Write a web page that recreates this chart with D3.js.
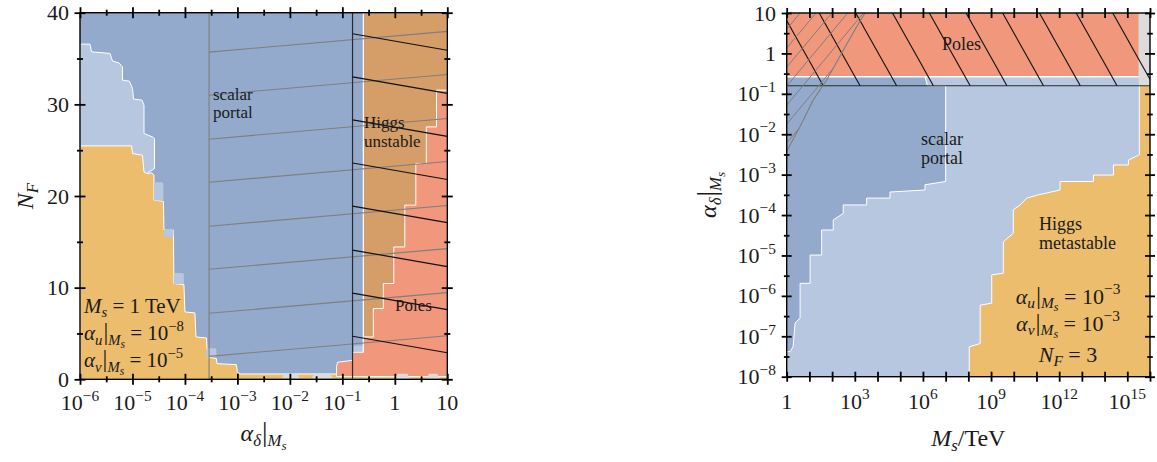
<!DOCTYPE html>
<html>
<head>
<meta charset="utf-8">
<script src="https://cdn.jsdelivr.net/npm/d3@7/dist/d3.min.js"></script>
<style>
  html, body { margin: 0; padding: 0; background: #fff; }
  svg { display: block; }
  text { font-family: "Liberation Serif", "Times New Roman", serif; fill: #1a1a1a; }
</style>
</head>
<body>
<svg id="chart" width="1157" height="462"></svg>
<script>
// ---------------- Left panel: N_F against alpha_delta at M_s = 1 TeV ----------------
// Region outlines, points as [log10(alpha_delta), N_F]
const leftLightBlue = [[-6,36.57],[-5.81,36.57],[-5.78,35.73],[-5.43,35.56],[-5.38,34.72],[-5.26,34.53],
  [-5.19,34.09],[-5.19,32.64],[-5.06,32.53],[-5.0,31.74],[-4.98,30.57],[-4.82,30.46],[-4.78,29.91],
  [-4.78,26.82],[-4.62,26.45],[-4.58,26.28],[-4.58,23.0],[-4.70,22.57],[-4.72,22.0],[-6,22.0]];
const leftMetastable = [[-6,25.47],[-5.015,25.47],[-5.0,24.64],[-4.81,24.45],[-4.78,22.63],[-4.73,22.46],
  [-4.63,22.52],[-4.59,22.27],[-4.59,19.54],[-4.41,19.43],[-4.40,16.34],[-4.22,16.27],[-4.21,10.45],
  [-4.02,10.34],[-4.0,7.35],[-3.81,7.24],[-3.79,4.62],[-3.59,4.51],[-3.58,3.35],[-3.56,2.43],[-3.40,2.26],
  [-3.39,1.71],[-3.02,1.60],[-3.0,0.80],[-2.95,0.58],[1,0.58],[1,0],[-6,0]];
// small cells along the metastability edge: [x0, x1, N0, N1]
const leftPatches = [[-4.59,-4.41,19.5,21.5],[-4.40,-4.22,15.5,16.4],[-4.21,-4.02,10.4,11.6],
  [-3.59,-3.40,2.4,3.4],[-0.78,-0.6,3.0,3.7]];
const leftUnstable = [[-0.6,40],[1,40],[1,0.3],[-0.6,0.3]];
const leftPoles = [[1,31.55],[0.794,31.55],[0.794,27.54],[0.60,27.54],[0.60,23.55],[0.40,23.55],
  [0.40,19.0],[0.19,19.0],[0.19,14.44],[-0.02,14.44],[-0.02,10.45],[-0.22,10.45],[-0.22,7.72],
  [-0.41,7.72],[-0.41,4.62],[-0.60,4.62],[-0.60,2.95],[-0.806,2.95],[-0.806,2.07],[-1.09,1.86],
  [-1.11,1.42],[-1.11,0.3],[1,0.3]];
const leftGreyBlobs = [[-2.16,-1.81],[-1.59,-1.18],[0.0,0.29],[0.6,0.86]];
const leftPortalEdge = -3.54;          // scalar-portal bound, log10 alpha
const leftPortalHatch = [35.7, 31.0, 26.2, 21.5, 16.7, 12.0, 7.2, 2.5];
const leftPortalRise = 2.26;
const leftPoleEdge = -0.806;           // perturbativity bound, log10 alpha
const leftPoleHatch = [37.7, 33.0, 28.3, 23.6, 18.9, 14.1, 9.4, 4.7];
const leftPoleDrop = 1.8;
const leftXTicks = [-6, -5, -4, -3, -2, -1, 0, 1];
const leftXMinor = [-5.5, -4.5, -3.5, -2.5, -1.5, -0.5, 0.5];
const leftYTicks = [0, 10, 20, 30, 40];
const leftYMinor = [5, 15, 25, 35];

// ---------------- Right panel: alpha_delta against M_s ----------------
// points as [log10(M_s/TeV), log10(alpha_delta)]
const rightPortalEdge = [[7.0,-0.8],[7.0,-3.17],[6.09,-3.25],[6.09,-3.38],[4.55,-3.43],[4.55,-3.58],
  [3.52,-3.58],[3.52,-3.75],[2.49,-3.75],[2.49,-3.96],[2.05,-4.12],[2.05,-4.37],[1.54,-4.37],
  [1.54,-4.99],[1.03,-4.99],[1.03,-5.69],[0.59,-5.69],[0.59,-6.55],[0.37,-6.67],[0.28,-7.26],
  [0.15,-7.38],[0,-7.38]];
const rightMetastableEdge = [[15.53,-0.8],[15.53,-2.51],[15.05,-2.64],[15.05,-2.76],[14.39,-2.76],
  [14.39,-3.01],[13.51,-3.01],[13.51,-3.17],[12.04,-3.17],[12.04,-3.38],[11.08,-3.5],[10.57,-3.58],
  [10.28,-3.75],[9.98,-3.87],[9.98,-4.45],[9.54,-4.66],[9.54,-5.44],[9.03,-5.48],[9.03,-6.18],
  [8.52,-6.23],[8.52,-7.18],[8.04,-7.26],[8.04,-8]];
const rightPolesBottom = -0.577;
const rightPoleLine = -0.8;
const rightPolesRight = 15.5;
const rightPortalStripEnd = [6.09, 6.2];
const rightPoleHatchEnd = [1.61, 3.23, 4.84, 6.46, 8.08, 9.70, 11.31, 12.93, 14.55, 16.16];
const rightPoleHatchRun = 1.8;
const rightCurve = [[0,-2.42],[0.59,-1.81],[1.17,-1.15],[1.76,-0.66],[2.49,0.08],[3.08,0.66],[3.45,1.0]];
const rightCurveHatch = [0.60, 0.13, -0.34, -0.81, -1.28, -1.75, -2.22];
const rightCurveSlope = 0.674;
const rightXTicks = [0, 3, 6, 9, 12, 15];
const rightXMinor = [1, 2, 4, 5, 7, 8, 10, 11, 13, 14, 16];
const rightYTicks = [-8, -7, -6, -5, -4, -3, -2, -1, 0, 1];
const rightYMinor = [-7.5, -6.5, -5.5, -4.5, -3.5, -2.5, -1.5, -0.5, 0.5];

const COL = { portal: '#93aacc', light: '#b6c7df', meta: '#ebbd6c', unstable: '#d59d68',
              poles: '#f0977c', grey: '#dcdcdc', hatch: '#7f7f7f' };

const svg = d3.select('#chart');
const P = 10;
const pow = e => Math.pow(P, e);

// ---------- rich text (italic, sub/superscripts) ----------
function rich(g, parts, size) {
  const t = g.append('text').style('font-size', size + 'px');
  let shift = 0;
  parts.forEach(p => {
    const lvl = p.s || 0;
    const sc = lvl === 0 ? (p.k || 1) : (Math.abs(lvl) === 1 ? 0.7 : 0.55);
    const target = lvl === 0 ? 0 : lvl === 1 ? 0.22 * size : lvl === 2 ? 0.36 * size : -0.42 * size;
    const ts = t.append('tspan').text(p.t)
      .attr('dy', target - shift)
      .style('font-size', (size * sc) + 'px')
      .style('font-style', p.i ? 'italic' : 'normal');
    if (p.dx) ts.attr('dx', p.dx);
    shift = target;
  });
  return t;
}
const alphaAt = sub => [{t:'α', i:1}, {t:sub, i:1, s:1}, {t:'|', k:1.15, dx:1}, {t:'M', i:1, s:1}, {t:'s', i:1, s:2}];
const powLabel = e => e === 0 ? [{t:'1'}] : e === 1 ? [{t:'10'}]
  : [{t:'10'}, {t:(e < 0 ? '−' : '') + Math.abs(e), s:-1}];

// ---------- ticks that cross the frame ----------
function crossTicks(g, axisFn, scale, values, len, transform) {
  [len, -len].forEach(sz => {
    const a = g.append('g').attr('transform', transform)
      .call(axisFn(scale).tickValues(values).tickSize(sz).tickFormat(''));
    a.select('.domain').remove();
    a.selectAll('line').attr('stroke', '#000').attr('stroke-width', 1.8);
  });
}

// =================== LEFT PANEL ===================
(function () {
  const box = { x0: 80, x1: 447.3, y0: 12.7, y1: 379.3 };
  const xs = d3.scaleLog().domain([1e-6, 10]).range([box.x0, box.x1]);
  const ys = d3.scaleLinear().domain([0, 40]).range([box.y1, box.y0]);
  const X = e => xs(pow(e)), Y = n => ys(n);
  const line = d3.line().x(d => X(d[0])).y(d => Y(d[1]));
  const g = svg.append('g');

  svg.append('clipPath').attr('id', 'clipL').append('rect')
    .attr('x', box.x0).attr('y', box.y0).attr('width', box.x1 - box.x0).attr('height', box.y1 - box.y0);
  const pg = g.append('g').attr('clip-path', 'url(#clipL)');

  pg.append('rect').attr('x', box.x0).attr('y', box.y0).attr('width', box.x1 - box.x0)
    .attr('height', box.y1 - box.y0).attr('fill', COL.portal);
  pg.append('path').attr('d', line(leftLightBlue) + 'Z').attr('fill', COL.light)
    .attr('stroke', '#fff').attr('stroke-width', 1);
  pg.append('path').attr('d', line(leftMetastable) + 'Z').attr('fill', COL.meta)
    .attr('stroke', '#fff').attr('stroke-width', 1);
  pg.selectAll('.patch').data(leftPatches).join('rect').attr('class', 'patch')
    .attr('x', d => X(d[0])).attr('width', d => X(d[1]) - X(d[0]))
    .attr('y', d => Y(d[3])).attr('height', d => Y(d[2]) - Y(d[3]))
    .attr('fill', COL.light).attr('rx', 1.5);
  pg.append('path').attr('d', line(leftUnstable) + 'Z').attr('fill', COL.unstable)
    .attr('stroke', '#fff').attr('stroke-width', 1.2);
  pg.append('path').attr('d', line(leftPoles) + 'Z').attr('fill', COL.poles)
    .attr('stroke', '#fff').attr('stroke-width', 1);
  pg.selectAll('.blob').data(leftGreyBlobs).join('path').attr('class', 'blob')
    .attr('d', d => line([[d[0], 0], [d[0] + 0.05, 0.6], [d[1] - 0.05, 0.6], [d[1], 0]]) + 'Z')
    .attr('fill', COL.grey);

  // scalar-portal bound with hatching
  pg.append('line').attr('x1', X(leftPortalEdge)).attr('x2', X(leftPortalEdge))
    .attr('y1', box.y0).attr('y2', box.y1).attr('stroke', COL.hatch).attr('stroke-width', 1.1);
  pg.selectAll('.ph').data(leftPortalHatch).join('line').attr('class', 'ph')
    .attr('x1', X(leftPortalEdge)).attr('y1', d => Y(d))
    .attr('x2', X(1)).attr('y2', d => Y(d + leftPortalRise))
    .attr('stroke', COL.hatch).attr('stroke-width', 1.1);

  // perturbativity bound with hatching
  pg.append('line').attr('x1', X(leftPoleEdge)).attr('x2', X(leftPoleEdge))
    .attr('y1', box.y0).attr('y2', box.y1).attr('stroke', '#2b2b2b').attr('stroke-width', 1.2);
  pg.selectAll('.bh').data(leftPoleHatch).join('line').attr('class', 'bh')
    .attr('x1', X(leftPoleEdge)).attr('y1', d => Y(d))
    .attr('x2', X(1)).attr('y2', d => Y(d - leftPoleDrop))
    .attr('stroke', '#111').attr('stroke-width', 1.2);

  // region labels
  const lab = (x, y, s) => g.append('text').attr('x', x).attr('y', y).style('font-size', '17px').text(s);
  lab(213, 99.5, 'scalar'); lab(213, 118, 'portal');
  lab(364, 128, 'Higgs'); lab(364, 147, 'unstable');
  lab(395, 311, 'Poles');

  // parameter box
  const a1 = rich(g, [{t:'M', i:1}, {t:'s', i:1, s:1}, {t:' = 1 TeV'}], 21);
  a1.attr('x', 84).attr('y', 312.5);
  const a2 = rich(g, alphaAt('u').concat([{t:' = '}, ...powLabel(-8)]), 21);
  a2.attr('x', 84).attr('y', 340);
  const a3 = rich(g, alphaAt('v').concat([{t:' = '}, ...powLabel(-5)]), 21);
  a3.attr('x', 84).attr('y', 367);

  // frame and ticks
  g.append('rect').attr('x', box.x0).attr('y', box.y0).attr('width', box.x1 - box.x0)
    .attr('height', box.y1 - box.y0).attr('fill', 'none').attr('stroke', '#000').attr('stroke-width', 1.4);
  const xt = leftXTicks.map(pow), xm = leftXMinor.map(pow);
  crossTicks(g, d3.axisBottom, xs, xt, 5.5, `translate(0,${box.y1})`);
  crossTicks(g, d3.axisBottom, xs, xm, 3, `translate(0,${box.y1})`);
  crossTicks(g, d3.axisTop, xs, xt, 5.5, `translate(0,${box.y0})`);
  crossTicks(g, d3.axisTop, xs, xm, 3, `translate(0,${box.y0})`);
  crossTicks(g, d3.axisLeft, ys, leftYTicks, 5.5, `translate(${box.x0},0)`);
  crossTicks(g, d3.axisLeft, ys, leftYMinor, 3, `translate(${box.x0},0)`);
  crossTicks(g, d3.axisRight, ys, leftYTicks, 5.5, `translate(${box.x1},0)`);
  crossTicks(g, d3.axisRight, ys, leftYMinor, 3, `translate(${box.x1},0)`);

  leftXTicks.forEach(e => {
    rich(g, powLabel(e), 22).attr('x', X(e)).attr('y', 410).attr('text-anchor', 'middle');
  });
  leftYTicks.forEach(n => {
    g.append('text').attr('x', 69).attr('y', Y(n) + 7.5).attr('text-anchor', 'end')
      .style('font-size', '22px').text(n);
  });

  rich(g, alphaAt('δ'), 24).attr('x', (box.x0 + box.x1) / 2).attr('y', 441).attr('text-anchor', 'middle');
  rich(g, [{t:'N', i:1}, {t:'F', i:1, s:1}], 24).attr('text-anchor', 'middle')
    .attr('transform', `translate(33,${(box.y0 + box.y1) / 2}) rotate(-90)`);
})();

// =================== RIGHT PANEL ===================
(function () {
  const box = { x0: 786.7, x1: 1150, y0: 13, y1: 376.7 };
  const xs = d3.scaleLog().domain([1, 1e16]).range([box.x0, box.x1]);
  const ys = d3.scaleLog().domain([1e-8, 10]).range([box.y1, box.y0]);
  const X = e => xs(pow(e)), Y = e => ys(pow(e));
  const line = d3.line().x(d => X(d[0])).y(d => Y(d[1]));
  const g = svg.append('g');

  svg.append('clipPath').attr('id', 'clipR').append('rect')
    .attr('x', box.x0).attr('y', box.y0).attr('width', box.x1 - box.x0).attr('height', box.y1 - box.y0);
  const pg = g.append('g').attr('clip-path', 'url(#clipR)');

  pg.append('rect').attr('x', box.x0).attr('y', box.y0).attr('width', box.x1 - box.x0)
    .attr('height', box.y1 - box.y0).attr('fill', COL.light);

  // scalar portal region
  const portalPoly = [[0, rightPolesBottom], [rightPortalStripEnd[0], rightPolesBottom],
    [rightPortalStripEnd[1], rightPoleLine]].concat(rightPortalEdge);
  pg.append('path').attr('d', line(portalPoly) + 'Z').attr('fill', COL.portal);
  pg.append('path').attr('d', line(portalPoly.slice(1)))
    .attr('fill', 'none').attr('stroke', '#fff').attr('stroke-width', 1);

  // Higgs metastable region
  const metaPoly = rightMetastableEdge.concat([[16, -8], [16, rightPoleLine]]);
  pg.append('path').attr('d', line(metaPoly) + 'Z').attr('fill', COL.meta);
  pg.append('path').attr('d', line(rightMetastableEdge)).attr('fill', 'none')
    .attr('stroke', '#fff').attr('stroke-width', 1);

  // poles region
  pg.append('rect').attr('x', X(0)).attr('width', X(rightPolesRight) - X(0))
    .attr('y', Y(1)).attr('height', Y(rightPolesBottom) - Y(1)).attr('fill', COL.poles);
  pg.append('line').attr('x1', X(0)).attr('x2', X(rightPolesRight))
    .attr('y1', Y(rightPolesBottom)).attr('y2', Y(rightPolesBottom)).attr('stroke', '#fff').attr('stroke-width', 1.3);
  pg.append('rect').attr('x', X(rightPolesRight)).attr('width', X(16) - X(rightPolesRight))
    .attr('y', Y(1)).attr('height', Y(rightPoleLine) - Y(1)).attr('fill', COL.grey);

  // perturbativity line and its hatching
  pg.append('line').attr('x1', box.x0).attr('x2', box.x1).attr('y1', Y(rightPoleLine)).attr('y2', Y(rightPoleLine))
    .attr('stroke', '#2b2b2b').attr('stroke-width', 1.2);
  pg.selectAll('.bh').data(rightPoleHatchEnd).join('line').attr('class', 'bh')
    .attr('x1', d => X(d - rightPoleHatchRun)).attr('y1', Y(1))
    .attr('x2', d => X(d)).attr('y2', Y(rightPoleLine))
    .attr('stroke', '#111').attr('stroke-width', 1.1);

  // scalar-portal bound (curve) with hatching on the excluded side
  svg.append('clipPath').attr('id', 'clipCurve').append('path')
    .attr('d', line(rightCurve.concat([[0, 1]])) + 'Z');
  const hg = pg.append('g').attr('clip-path', 'url(#clipCurve)');
  hg.selectAll('line').data(rightCurveHatch).join('line')
    .attr('x1', X(0)).attr('y1', d => Y(d))
    .attr('x2', X(6)).attr('y2', d => Y(d + 6 * rightCurveSlope))
    .attr('stroke', COL.hatch).attr('stroke-width', 1);
  pg.append('path').attr('d', line(rightCurve)).attr('fill', 'none')
    .attr('stroke', COL.hatch).attr('stroke-width', 1.1);

  // region labels
  const lab = (x, y, s) => g.append('text').attr('x', x).attr('y', y).style('font-size', '18px').text(s);
  lab(942, 50, 'Poles');
  lab(921, 145, 'scalar'); lab(921, 163.5, 'portal');
  lab(1039, 229.5, 'Higgs'); lab(1039, 248.5, 'metastable');

  // parameter box
  const cx = 1068;
  rich(g, alphaAt('u').concat([{t:' = '}, ...powLabel(-3)]), 22).attr('x', cx).attr('y', 303.5).attr('text-anchor', 'middle');
  rich(g, alphaAt('v').concat([{t:' = '}, ...powLabel(-3)]), 22).attr('x', cx).attr('y', 330.5).attr('text-anchor', 'middle');
  rich(g, [{t:'N', i:1}, {t:'F', i:1, s:1}, {t:' = 3'}], 22).attr('x', cx).attr('y', 361.5).attr('text-anchor', 'middle');

  // frame and ticks
  g.append('rect').attr('x', box.x0).attr('y', box.y0).attr('width', box.x1 - box.x0)
    .attr('height', box.y1 - box.y0).attr('fill', 'none').attr('stroke', '#000').attr('stroke-width', 1.4);
  const xt = rightXTicks.concat(rightXMinor).map(pow);
  const yt = rightYTicks.map(pow), ym = rightYMinor.map(pow);
  crossTicks(g, d3.axisBottom, xs, xt, 5, `translate(0,${box.y1})`);
  crossTicks(g, d3.axisTop, xs, xt, 5, `translate(0,${box.y0})`);
  crossTicks(g, d3.axisLeft, ys, yt, 5, `translate(${box.x0},0)`);
  crossTicks(g, d3.axisLeft, ys, ym, 2.8, `translate(${box.x0},0)`);
  crossTicks(g, d3.axisRight, ys, yt, 5, `translate(${box.x1},0)`);
  crossTicks(g, d3.axisRight, ys, ym, 2.8, `translate(${box.x1},0)`);

  rightXTicks.forEach(e => {
    rich(g, powLabel(e), 22).attr('x', X(e)).attr('y', 408.5).attr('text-anchor', 'middle');
  });
  rightYTicks.forEach(e => {
    rich(g, powLabel(e), 22).attr('x', 776).attr('y', Y(e) + 7.5).attr('text-anchor', 'end');
  });

  rich(g, [{t:'M', i:1}, {t:'s', i:1, s:1}, {t:'/TeV'}], 24)
    .attr('x', (box.x0 + box.x1) / 2).attr('y', 446).attr('text-anchor', 'middle');
  rich(g, alphaAt('δ'), 24).attr('text-anchor', 'middle')
    .attr('transform', `translate(716,${(box.y0 + box.y1) / 2}) rotate(-90)`);
})();
</script>
</body>
</html>
